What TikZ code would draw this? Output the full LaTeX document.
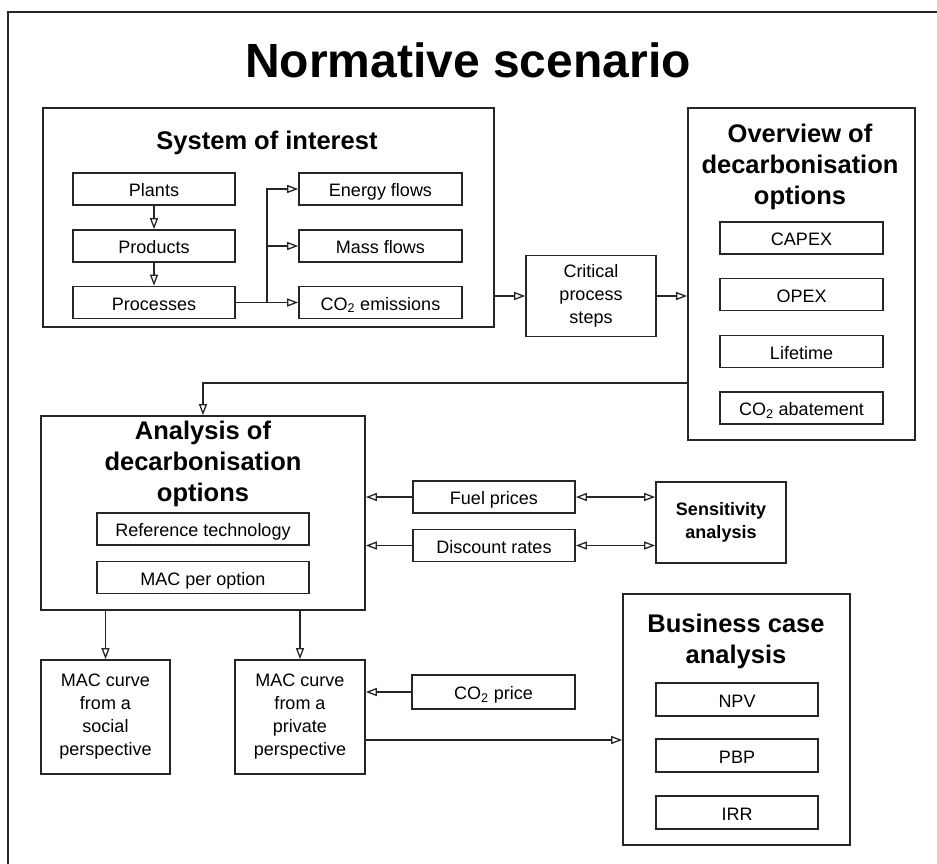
\documentclass[tikz,border=0pt]{standalone}
\usepackage{fontspec}
\setmainfont{Liberation Sans}
\usetikzlibrary{arrows.meta,calc}
\begin{document}
\begin{tikzpicture}[x=1pt,y=-1pt,
  box/.style={draw=black!85,line width=1.7pt,inner sep=0pt,align=center,
    font=\fontsize{18}{23}\selectfont},
  sbox/.style={box,text height=16pt,text depth=1pt},
  mbox/.style={box,minimum width=#1},
  sec/.style={align=center,inner sep=0pt,font=\fontsize{25.5}{31}\selectfont\bfseries},
  tip/.tip={Triangle[open,length=11pt,width=8pt,line width=1.3pt]},
  conn/.style={line width=1.5pt,draw=black!85,-tip},
  dconn/.style={line width=1.5pt,draw=black!85,tip-tip},
  plain/.style={line width=1.5pt,draw=black!85}]
\useasboundingbox (0,0) rectangle (937,864);
\fill[white] (0,0) rectangle (937,864);
\draw[line width=2.2pt,black!85] (8,864) -- (8,12) -- (937,12);

\node[inner sep=0pt,font=\fontsize{48}{58}\selectfont\bfseries] (title) at (468,60) {Normative scenario};

% System of interest
\node[box,minimum width=451pt,minimum height=219pt] (sys) at (268.5,217.5) {};
\node[sec] (systitle) at (267,143) {System of interest};
\node[sbox,minimum width=162pt,minimum height=32pt] (plants) at (154,189) {Plants};
\node[sbox,minimum width=162pt,minimum height=32pt] (products) at (154,246) {Products};
\node[sbox,minimum width=162pt,minimum height=32pt] (processes) at (154,302.5) {Processes};
\node[sbox,minimum width=163pt,minimum height=32pt] (energy) at (380.5,189) {Energy flows};
\node[sbox,minimum width=163pt,minimum height=32pt] (mass) at (380.5,246) {Mass flows};
\node[sbox,minimum width=163pt,minimum height=32pt] (co2em) at (380.5,302.5) {CO\textsubscript{2} emissions};

\draw[conn] (plants) -- (products);
\draw[conn] (products) -- (processes);
\coordinate (branch) at ($(processes.east)!0.5!(co2em.west)$);
\draw[plain] (processes.east) -- (branch);
\draw[conn] (branch) |- (energy.west);
\draw[conn] (branch) |- (mass.west);
\draw[conn] (branch) -- (co2em.west);

% Critical process steps
\node[box,minimum width=130pt,minimum height=81pt] (critical) at (591,296) {Critical\\process\\steps};

% Overview
\node[box,minimum width=227pt,minimum height=332pt] (overview) at (801.5,274) {};
\node[sec] (ovtitle) at (800,167) {Overview of\\decarbonisation\\options};
\node[sbox,minimum width=163pt,minimum height=32pt] (capex) at (801.5,238) {CAPEX};
\node[sbox,minimum width=163pt,minimum height=32pt] (opex) at (801.5,294.5) {OPEX};
\node[sbox,minimum width=163pt,minimum height=32pt] (lifetime) at (801.5,351.5) {Lifetime};
\node[sbox,minimum width=163pt,minimum height=32pt] (co2ab) at (801.5,408) {CO\textsubscript{2} abatement};

\draw[conn] (sys.east |- critical.west) -- (critical.west);
\draw[conn] (critical.east) -- (overview.west |- critical.east);

% Analysis
\node[box,minimum width=324pt,minimum height=194pt] (analysis) at (203,513) {};
\node[sec] (antitle) at (203,464) {Analysis of\\decarbonisation\\options};
\node[sbox,minimum width=212pt,minimum height=32pt] (reftech) at (203,529) {Reference technology};
\node[sbox,minimum width=212pt,minimum height=32pt] (macopt) at (203,577.5) {MAC per option};

\coordinate (ovout) at ($(overview.west)+(0,109)$);
\draw[conn] (ovout) -| (analysis.north);

% Fuel / discount / sensitivity
\node[sbox,minimum width=162pt,minimum height=32pt] (fuel) at (494,497) {Fuel prices};
\node[sbox,minimum width=162pt,minimum height=32pt] (discount) at (494,545.5) {Discount rates};
\node[box,minimum width=130pt,minimum height=81pt,font=\fontsize{18}{23}\selectfont\bfseries] (sens) at (721,522.5) {Sensitivity\\analysis};

\draw[conn] (fuel.west) -- (analysis.east |- fuel.west);
\draw[conn] (discount.west) -- (analysis.east |- discount.west);
\draw[dconn] (fuel.east) -- (sens.west |- fuel.east);
\draw[dconn] (discount.east) -- (sens.west |- discount.east);

% MAC curves
\node[box,minimum width=129pt,minimum height=114pt] (social) at (105.5,717) {MAC curve\\from a\\social\\perspective};
\node[box,minimum width=130pt,minimum height=114pt] (private) at (300,717) {MAC curve\\from a\\private\\perspective};
\draw[conn] (analysis.south -| social.north) -- (social.north);
\draw[conn] (analysis.south -| private.north) -- (private.north);

\node[sbox,minimum width=163pt,minimum height=34pt] (co2price) at (493.5,692) {CO\textsubscript{2} price};
\draw[conn] (co2price.west) -- (private.east |- co2price.west);

% Business case
\node[box,minimum width=227pt,minimum height=251pt] (business) at (736.5,719.5) {};
\node[sec] (bctitle) at (736,641) {Business case\\analysis};
\node[sbox,minimum width=162pt,minimum height=33pt] (npv) at (737,699.5) {NPV};
\node[sbox,minimum width=162pt,minimum height=33pt] (pbp) at (737,755.5) {PBP};
\node[sbox,minimum width=162pt,minimum height=33pt] (irr) at (737,812.5) {IRR};

\coordinate (privout) at ($(private.east)+(0,23)$);
\draw[conn] (privout) -- (business.west |- privout);
\end{tikzpicture}
\end{document}
